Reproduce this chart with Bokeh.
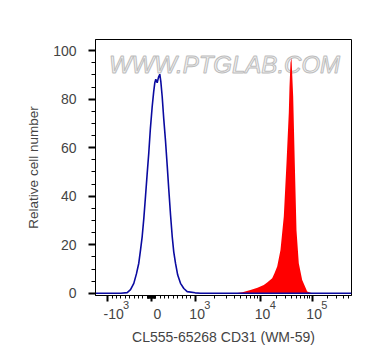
import numpy as np
from bokeh.plotting import figure
from bokeh.models import Range1d, FixedTicker, SingleIntervalTicker, Label, LinearAxis
from bokeh.embed import file_html
from bokeh.resources import INLINE

# ---------------- data (fluorescence intensity, relative cell number) ----------------
X_MIN = -1543.0
X_MAX = 576000.0

blue_x = [X_MIN, -700, -556, -480, -405, -345, -291, -250, -213, -175, -137, -100, -62, -25,
          16, 50, 76, 98, 130, 160, 190, 215, 245, 280, 320, 360, 396, 435, 474, 510,
          549, 600, 664, 740, 817, 1000, 1205, X_MAX]
blue_y = [0, 0, 0.3, 1.5, 4.1, 8, 12.4, 18, 23.4, 31, 40, 49, 57.9, 68,
          77, 83, 86.8, 88.2, 86.8, 89, 90.3, 87, 81, 72, 63, 52.5, 42.7, 32.5, 23.4, 17,
          12.4, 7.5, 4.1, 2, 0.7, 0.2, 0, 0]

red_x = [X_MIN, 4143, 5302, 7025, 8995, 11580, 13660, 16840, 18660, 21040, 24370, 28230,
         31840, 35270, 36390, 38050, 39780, 42910, 46070, 49700, 55060, 64070, 80060,
         100000, X_MAX]
red_y = [0, 0, 0.4, 1.4, 2.3, 3.4, 4.6, 6.2, 8.3, 11, 17.9, 31.7,
         53.7, 74.4, 85, 95, 97, 81, 53.7, 26, 12.4, 5.5, 0.7,
         0, 0]

major_vals = [-1000, 0, 1000, 10000, 100000]
major_base = ["-10", "0", "10", "10", "10"]
major_exp = ["3", "", "3", "4", "5"]
minor_vals = ([-m * 100 for m in range(1, 10)] + [-m * 10 for m in range(1, 10)] +
              [m * 10 for m in range(1, 10)] + [m * 100 for m in range(1, 10)] +
              [m * 1000 for m in range(2, 10)] + [m * 10000 for m in range(2, 10)] +
              [m * 100000 for m in range(2, 6)])

y_ticks_interval = 20

# ---------------- biexponential display scale ----------------
ZERO_CH = 56.0
LIN_W = 43.7
DEC1_W = 65.3
DEC2_W = 51.7


def biex(v):
    v = np.asarray(v, dtype=float)
    a = np.abs(v)
    d = np.where(
        a <= 1e3,
        a / 1e3 * LIN_W,
        LIN_W + DEC1_W * np.log10(np.clip(a, 1e3, 1e4) / 1e3)
        + DEC2_W * np.log10(np.maximum(a, 1e4) / 1e4),
    )
    return ZERO_CH + np.sign(v) * d


FONT = "Liberation Sans"
NB = "\u00a0"

p = figure(
    frame_width=256, frame_height=256,
    x_range=Range1d(float(biex(X_MIN)), float(biex(X_MAX))),
    y_range=Range1d(-0.9, 104.6),
    output_backend="svg", toolbar_location=None,
    min_border_left=95, min_border_right=13, min_border_top=39, min_border_bottom=10,
)
p.background_fill_color = "white"
p.border_fill_color = "white"
p.grid.visible = False
p.outline_line_color = "black"
p.outline_line_width = 1

# watermark
p.add_layout(Label(x=float(biex(X_MIN)) + 129, y=94.1, text="WWW.PTGLAB.COM",
                   text_align="center", text_baseline="middle", text_font=FONT,
                   text_font_size="24px", text_font_style="italic", text_color="#f2f2f2",
                   text_outline_color="#bdbdbd", level="underlay"))

# histograms
p.varea(x=biex(red_x), y1=0, y2=red_y, fill_color="#ff0000")
p.line(x=biex(blue_x), y=blue_y, line_color="#0a0aa0", line_width=1.6)

# y axis
ya = p.yaxis[0]
ya.ticker = SingleIntervalTicker(interval=y_ticks_interval, num_minor_ticks=4)
ya.axis_label = "Relative cell number"
ya.axis_label_text_font = FONT
ya.axis_label_text_font_size = "13.5px"
ya.axis_label_text_font_style = "normal"
ya.axis_label_standoff = 9
ya.major_label_text_font = FONT
ya.major_label_text_font_size = "14px"
ya.major_label_standoff = 12
ya.major_tick_in = 0
ya.major_tick_out = 7
ya.minor_tick_in = 0
ya.minor_tick_out = 4
ya.major_tick_line_width = 2
ya.axis_line_color = "black"

# x axis: ticks and base labels ("10", "-10", "0")
major_pos = [float(t) for t in biex(major_vals)]
ticker = FixedTicker(ticks=major_pos, minor_ticks=[float(t) for t in biex(minor_vals)])
xa = p.xaxis[0]
xa.ticker = ticker
base_pad = {"-10": 3, "0": 3, "10": 1}
xa.major_label_overrides = {pos: NB * base_pad[b] + b for pos, b in zip(major_pos, major_base)}
xa.major_label_text_font = FONT
xa.major_label_text_font_size = "14px"
xa.major_label_standoff = 4
xa.major_tick_in = 0
xa.major_tick_out = 6
xa.minor_tick_in = 0
xa.minor_tick_out = 3
xa.major_tick_line_width = 2

# second (label-only) axis carrying the exponents and the axis title
exp_pad = {"-10": 12, "0": 0, "10": 8}
xa2 = LinearAxis(ticker=ticker)
xa2.major_label_overrides = {pos: (NB * exp_pad[b] + e if e else "")
                             for pos, b, e in zip(major_pos, major_base, major_exp)}
xa2.major_label_text_font = FONT
xa2.major_label_text_font_size = "11px"
xa2.major_label_standoff = -26
xa2.axis_line_color = None
xa2.major_tick_line_color = None
xa2.minor_tick_line_color = None
xa2.major_tick_out = 0
xa2.minor_tick_out = 0
xa2.axis_label = "CL555-65268 CD31 (WM-59)"
xa2.axis_label_text_font = FONT
xa2.axis_label_text_font_size = "14px"
xa2.axis_label_text_font_style = "normal"
xa2.axis_label_standoff = 15
p.add_layout(xa2, "below")

open("out.html", "w").write(file_html(p, INLINE))
